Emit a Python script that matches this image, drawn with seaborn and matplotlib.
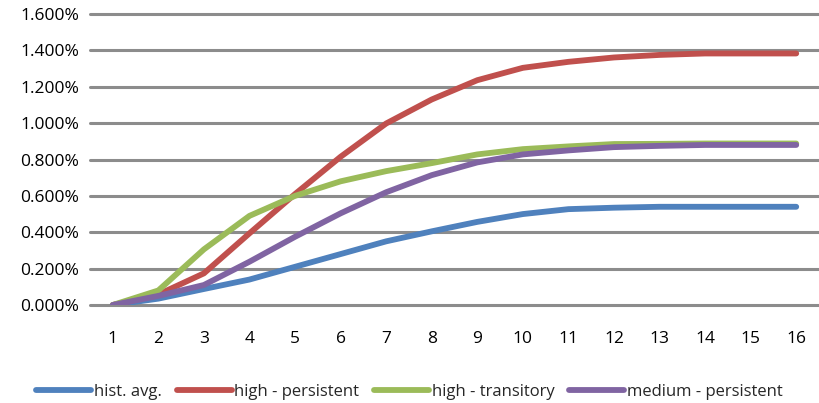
import matplotlib
matplotlib.use("Agg")
import matplotlib.pyplot as plt
import seaborn as sns
import pandas as pd
from matplotlib.ticker import FuncFormatter, MultipleLocator

periods = list(range(1, 17))
hist_avg = [0.000, 0.035, 0.088, 0.140, 0.210, 0.280, 0.350, 0.405, 0.457, 0.500, 0.527, 0.535, 0.540, 0.540, 0.540, 0.540]
high_persistent = [0.000, 0.058, 0.174, 0.394, 0.610, 0.815, 0.998, 1.130, 1.236, 1.304, 1.337, 1.361, 1.375, 1.383, 1.383, 1.383]
high_transitory = [0.000, 0.080, 0.306, 0.490, 0.600, 0.680, 0.736, 0.780, 0.828, 0.857, 0.872, 0.885, 0.886, 0.888, 0.888, 0.888]
medium_persistent = [0.000, 0.050, 0.110, 0.238, 0.375, 0.504, 0.620, 0.714, 0.784, 0.828, 0.850, 0.868, 0.875, 0.880, 0.880, 0.880]

series_names = ["hist. avg.", "high - persistent", "high - transitory", "medium - persistent"]
series_colors = ["#4F81BD", "#C0504D", "#9BBB59", "#8064A2"]

frames = []
for name, vals in zip(series_names, [hist_avg, high_persistent, high_transitory, medium_persistent]):
    frames.append(pd.DataFrame({"period": periods, "value": vals, "series": name}))
df = pd.concat(frames, ignore_index=True)

sns.set_style("white")
plt.rcParams["font.family"] = ["Open Sans", "DejaVu Sans"]

fig = plt.figure(figsize=(8.19, 4.03), dpi=100)
ax = fig.add_axes([90 / 819, 1 - 305 / 403, 729 / 819, 291 / 403])

sns.lineplot(data=df, x="period", y="value", hue="series", hue_order=series_names,
             palette=series_colors, linewidth=4.2, ax=ax, legend=False,
             solid_capstyle="round", zorder=3)

ax.set_xlim(0.5, 16.5)
ax.set_ylim(0, 1.6)
ax.yaxis.set_major_locator(MultipleLocator(0.2))
ax.yaxis.set_major_formatter(FuncFormatter(lambda v, p: f"{v:.3f}%"))
ax.set_xticks(periods)
ax.set_xticklabels([str(p) for p in periods])
ax.grid(axis="y", color="#8c8c8c", linewidth=2.2, zorder=0)
for g in ax.get_ygridlines():
    g.set_clip_on(False)
ax.set_axisbelow(True)
for s in ax.spines.values():
    s.set_visible(False)
ax.tick_params(axis="both", length=0, labelsize=12.5, colors="#000000")
ax.tick_params(axis="x", pad=19)
ax.tick_params(axis="y", pad=8)
ax.set_xlabel("")
ax.set_ylabel("")

handles = [plt.Line2D([0], [0], color=c, linewidth=4.2, solid_capstyle="round") for c in series_colors]
fig.legend(handles, series_names, loc="center", bbox_to_anchor=(0.5, 1 - 392 / 403),
           ncol=4, frameon=False, fontsize=12, handlelength=3.3, handletextpad=0.15,
           columnspacing=0.9)

fig.savefig("out.png", dpi=100)
